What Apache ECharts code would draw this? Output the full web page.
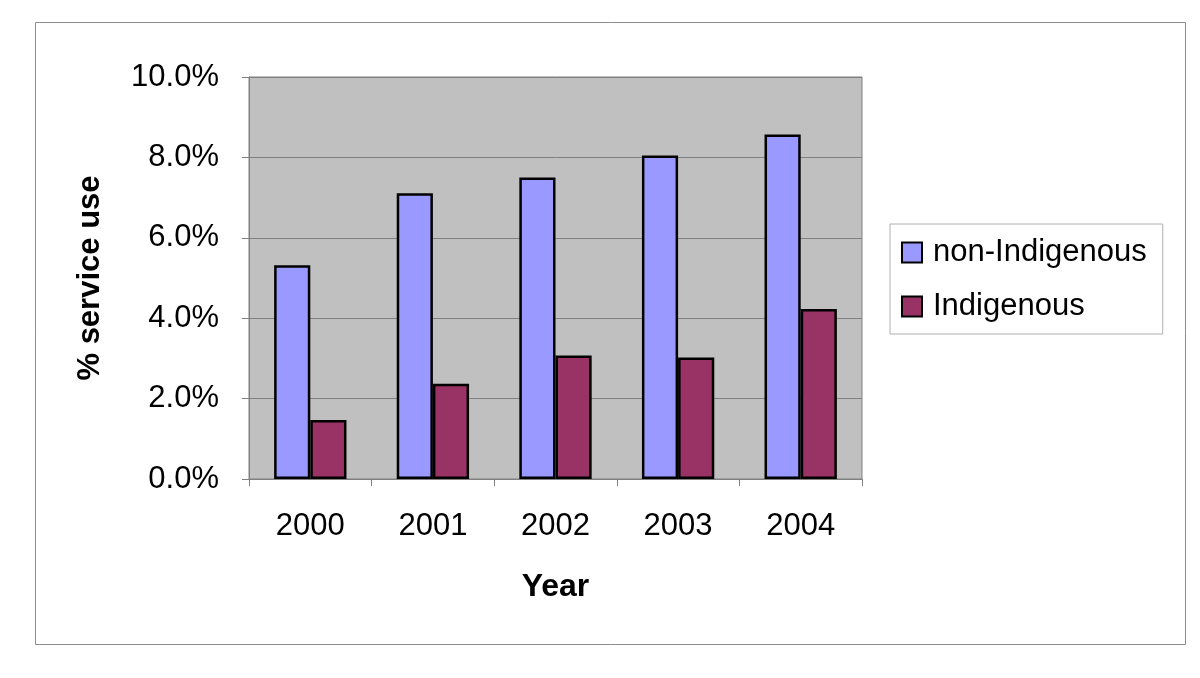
<!DOCTYPE html>
<html><head><meta charset="utf-8">
<script src="https://cdn.jsdelivr.net/npm/echarts@6/dist/echarts.min.js"></script>
<style>html,body{margin:0;padding:0;background:#fff}#c{width:1200px;height:678px}</style>
</head><body><div id="c"></div>
<script>
const years = ['2000','2001','2002','2003','2004'];
const nonIndigenous = [5.32, 7.11, 7.50, 8.05, 8.57];
const indigenous = [1.47, 2.37, 3.07, 3.02, 4.23];
const seriesNames = ['non-Indigenous', 'Indigenous'];
const yTitle = '% service use';
const xTitle = 'Year';

const chart = echarts.init(document.getElementById('c'));
const font = 'Liberation Sans, Arial, sans-serif';
chart.setOption({
  animation: false,
  backgroundColor: '#fff',
  textStyle: {fontFamily: font},
  graphic: [
    {type:'rect', shape:{x:35.5,y:22.5,width:1150,height:622}, style:{fill:null, stroke:'#8c8c8c', lineWidth:1}, silent:true}
  ],
  grid: {left: 249, right: 338, top: 77, bottom: 199, show: true, backgroundColor: '#C0C0C0', borderColor: '#808080', borderWidth: 1},
  legend: {
    orient: 'vertical', left: 890, top: 224,
    padding: [13, 16, 12, 11], itemGap: 23,
    borderColor: '#b0b0b0', borderWidth: 1,
    itemWidth: 20, itemHeight: 20, icon: 'rect',
    textStyle: {fontSize: 31, color: '#000', fontFamily: font, padding: [0, 0, 0, 6]},
    data: seriesNames
  },
  xAxis: {
    type: 'category', data: years,
    axisLine: {lineStyle: {color: '#808080', width: 1}},
    axisTick: {show: true, length: 7, lineStyle: {color: '#808080'}},
    axisLabel: {fontSize: 31, color: '#000', margin: 32},
    name: xTitle, nameLocation: 'middle', nameGap: 92,
    nameTextStyle: {fontSize: 32, fontWeight: 'bold', color: '#000'}
  },
  yAxis: {
    type: 'value', min: 0, max: 10, interval: 2,
    axisLine: {show: true, lineStyle: {color: '#808080'}},
    axisTick: {show: true, length: 7, lineStyle: {color: '#808080'}},
    splitLine: {lineStyle: {color: '#808080', width: 1}},
    axisLabel: {fontSize: 31, color: '#000', margin: 30, formatter: v => v.toFixed(1) + '%'},
    name: yTitle, nameLocation: 'middle', nameGap: 159, nameRotate: 90,
    nameTextStyle: {fontSize: 31, fontWeight: 'bold', color: '#000', verticalAlign: 'middle'}
  },
  series: [
    {name: seriesNames[0], type: 'bar', data: nonIndigenous, barGap: '0%', barCategoryGap: '41%',
     itemStyle: {color: '#9999FF', borderColor: '#000', borderWidth: 2.5}},
    {name: seriesNames[1], type: 'bar', data: indigenous, barGap: '0%', barCategoryGap: '41%',
     itemStyle: {color: '#993366', borderColor: '#000', borderWidth: 2.5}}
  ]
});
</script></body></html>
